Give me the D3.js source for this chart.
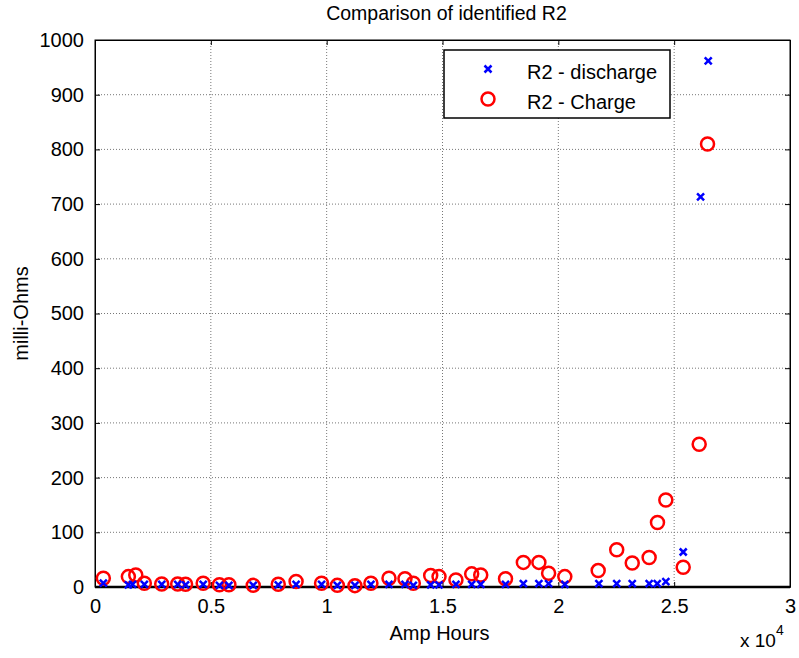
<!DOCTYPE html>
<html>
<head>
<meta charset="utf-8">
<script src="https://cdn.jsdelivr.net/npm/d3@7"></script>
<style>
  body { margin: 0; background: #fff; }
  svg { font-family: "Liberation Sans", Arial, sans-serif; }
  .grid line { stroke: #777; stroke-dasharray: 1,2; stroke-width: 1; }
</style>
</head>
<body>
<div id="chart"></div>
<script>
// x values are in units of 1e4 Amp Hours
var chargeX = [0.036, 0.144, 0.176, 0.213, 0.288, 0.357, 0.391, 0.467, 0.537, 0.578, 0.683, 0.791, 0.868, 0.978,
  1.046, 1.122, 1.191, 1.269, 1.338, 1.374, 1.449, 1.485, 1.558, 1.626, 1.665, 1.772, 1.849, 1.916, 1.958, 2.028,
  2.172, 2.252, 2.319, 2.392, 2.428, 2.464, 2.539, 2.608, 2.644];
var chargeY = [16, 19, 22, 7, 5.5, 5.5, 5, 7, 4, 4, 3, 5, 10, 7,
  3, 2.5, 7, 16, 15, 7, 21, 19, 13, 24, 22, 15, 45, 45, 25, 19,
  30, 68, 44, 54, 118, 159, 36, 261, 810];

var dischargeX = [0.036, 0.144, 0.162, 0.213, 0.288, 0.357, 0.391, 0.467, 0.537, 0.578, 0.683, 0.791, 0.868, 0.978,
  1.046, 1.122, 1.191, 1.269, 1.338, 1.374, 1.449, 1.485, 1.558, 1.626, 1.665, 1.772, 1.849, 1.916, 1.958, 2.028,
  2.175, 2.252, 2.319, 2.392, 2.427, 2.464, 2.539, 2.614, 2.647];
var dischargeY = [7, 4, 5, 5, 5, 5, 4, 5, 3, 3, 3, 4, 5, 5,
  3, 3, 5, 5, 5, 3, 4, 4, 5, 5, 5, 5, 6, 6, 6, 5,
  6, 6, 6, 6, 6, 10, 64, 713, 962];

var xTicks = [0, 0.5, 1, 1.5, 2, 2.5, 3];
var yTicks = [0, 100, 200, 300, 400, 500, 600, 700, 800, 900, 1000];
var seriesNames = ["R2 - discharge", "R2 - Charge"];

var W = 799, H = 658;
var margin = {top: 40, right: 9, bottom: 71, left: 95};
var width = W - margin.left - margin.right,
    height = H - margin.top - margin.bottom;

var svg = d3.select("#chart").append("svg")
    .attr("width", W).attr("height", H);
var g = svg.append("g")
    .attr("transform", "translate(" + margin.left + "," + margin.top + ")");

var x = d3.scaleLinear().domain([0, 3]).range([0, width]);
var y = d3.scaleLinear().domain([0, 1000]).range([height, 0]);

// grid
g.append("g").attr("class", "grid")
  .selectAll("line").data(xTicks.slice(1, -1)).enter().append("line")
  .attr("x1", d => x(d)).attr("x2", d => x(d)).attr("y1", 0).attr("y2", height);
g.append("g").attr("class", "grid")
  .selectAll("line").data(yTicks.slice(1, -1)).enter().append("line")
  .attr("y1", d => y(d)).attr("y2", d => y(d)).attr("x1", 0).attr("x2", width);

// axes, ticks inward like matlab
var fmtX = d => String(d);
g.append("g").attr("transform", "translate(0," + height + ")")
  .call(d3.axisBottom(x).tickValues(xTicks).tickFormat(fmtX).tickSizeInner(-5).tickSizeOuter(0).tickPadding(12));
g.append("g")
  .call(d3.axisTop(x).tickValues(xTicks).tickFormat("").tickSizeInner(-5).tickSizeOuter(0));
g.append("g")
  .call(d3.axisLeft(y).tickValues(yTicks).tickFormat(d3.format("d")).tickSizeInner(-5).tickSizeOuter(0).tickPadding(11));
g.append("g").attr("transform", "translate(" + width + ",0)")
  .call(d3.axisRight(y).tickValues(yTicks).tickFormat("").tickSizeInner(-5).tickSizeOuter(0));

g.selectAll(".domain").attr("stroke", "#000").attr("stroke-width", 1);
g.selectAll(".tick line").attr("stroke", "#000");
g.selectAll(".tick text").attr("font-size", 20).attr("fill", "#000")
  .attr("font-family", "Liberation Sans, Arial, sans-serif");

// box
g.append("rect").attr("width", width).attr("height", height)
  .attr("fill", "none").attr("stroke", "#000").attr("stroke-width", 1);
// thick bottom axis line
g.append("line").attr("x1", 0).attr("x2", width).attr("y1", height).attr("y2", height)
  .attr("stroke", "#000").attr("stroke-width", 2.5);

var chargeData = chargeX.map((d, i) => ({x: d, y: chargeY[i]}));
var dischargeData = dischargeX.map((d, i) => ({x: d, y: dischargeY[i]}));

// charge points
g.selectAll(".charge").data(chargeData).enter().append("circle")
  .attr("class", "charge")
  .attr("cx", d => x(d.x)).attr("cy", d => y(d.y)).attr("r", 6.5)
  .attr("fill", "none").attr("stroke", "red").attr("stroke-width", 2.5);

function cross(sel, s) {
  sel.append("path")
    .attr("d", "M" + (-s) + "," + (-s) + "L" + s + "," + s + "M" + (-s) + "," + s + "L" + s + "," + (-s))
    .attr("stroke", "blue").attr("stroke-width", 2.5).attr("fill", "none");
}

// discharge points
g.selectAll(".discharge").data(dischargeData).enter().append("g")
  .attr("class", "discharge")
  .attr("transform", d => "translate(" + x(d.x) + "," + y(d.y) + ")")
  .call(cross, 3.5);

// labels
svg.append("text").attr("x", margin.left + width / 2 + 4).attr("y", 20)
  .attr("text-anchor", "middle").attr("font-size", 19.5).text("Comparison of identified R2");
svg.append("text").attr("x", margin.left + width / 2 - 3).attr("y", 640)
  .attr("text-anchor", "middle").attr("font-size", 20).text("Amp Hours");
svg.append("text").attr("transform", "translate(28," + (margin.top + height / 2) + ") rotate(-90)")
  .attr("text-anchor", "middle").attr("font-size", 20).text("milli-Ohms");

var mult = svg.append("text").attr("x", 740).attr("y", 647).attr("font-size", 19);
mult.append("tspan").text("x 10");
mult.append("tspan").attr("dy", -12).attr("font-size", 14).text("4");

// legend
var lg = svg.append("g").attr("transform", "translate(444,50)");
lg.append("rect").attr("width", 226).attr("height", 68)
  .attr("fill", "#fff").attr("stroke", "#000").attr("stroke-width", 1.5);
lg.append("g").attr("transform", "translate(44,19)").call(cross, 3.5);
lg.append("circle").attr("cx", 44).attr("cy", 49).attr("r", 6.5)
  .attr("fill", "none").attr("stroke", "red").attr("stroke-width", 2.5);
lg.selectAll(".lt").data(seriesNames).enter().append("text")
  .attr("x", 83).attr("y", (d, i) => 29 + i * 30)
  .attr("font-size", 20).text(d => d);
</script>
</body>
</html>
